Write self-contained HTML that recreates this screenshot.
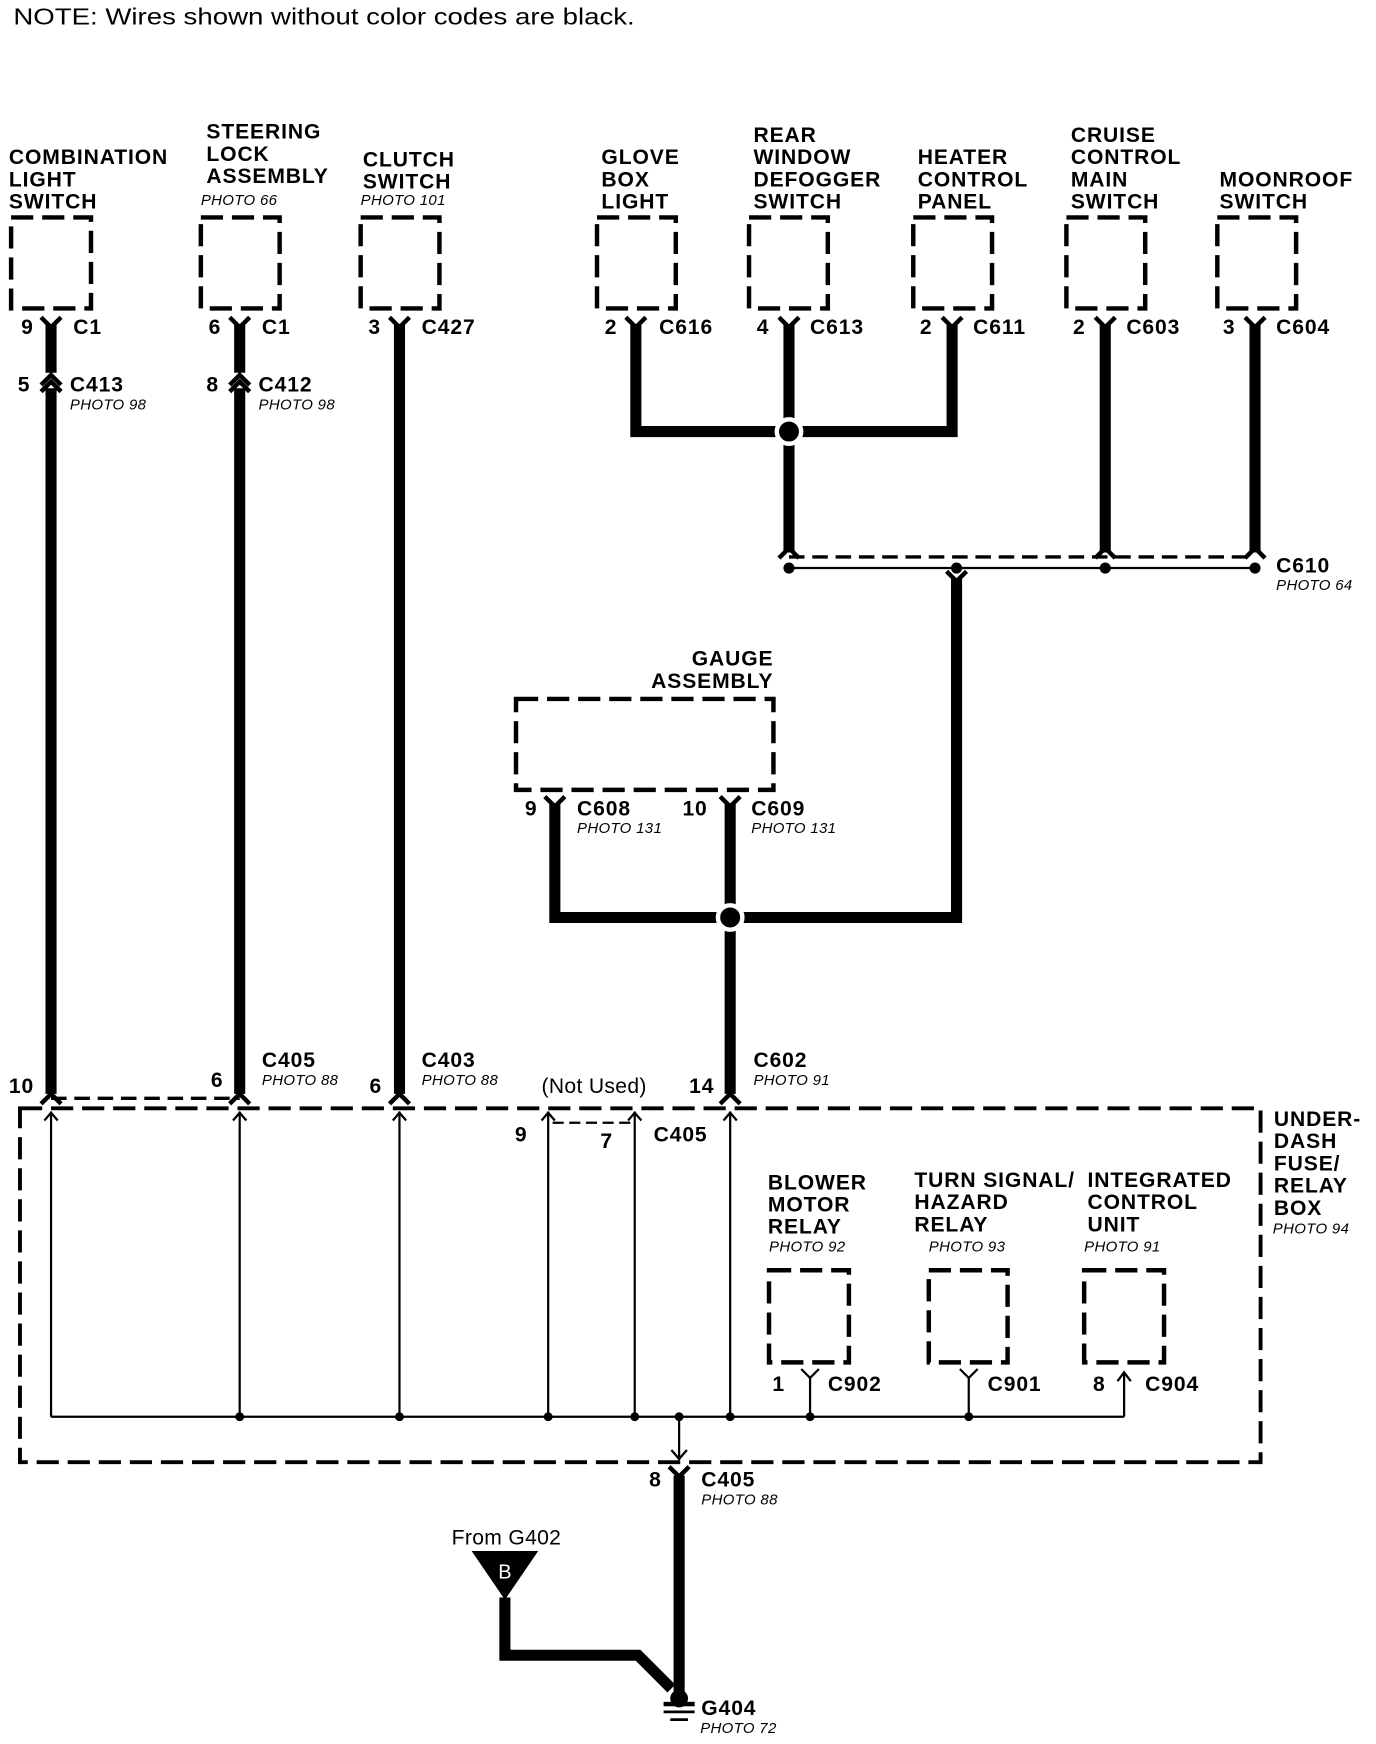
<!DOCTYPE html>
<html><head><meta charset="utf-8"><style>
html,body{margin:0;padding:0;background:#fff}
svg{display:block}
text{font-family:"Liberation Sans",Arial,sans-serif;fill:#000}
.b{font-weight:bold;font-size:19px;letter-spacing:0.8px}
.p{font-style:italic;font-size:13.5px;letter-spacing:0.3px}
.n{font-size:19px;letter-spacing:0.3px}
</style></head><body>
<svg width="1376" height="1744" viewBox="0 0 1240 1572" preserveAspectRatio="none" xmlns="http://www.w3.org/2000/svg">
<rect width="1240" height="1572" fill="#fff"/>
<text x="12" y="22" style="font-size:21px" textLength="560" lengthAdjust="spacingAndGlyphs">NOTE: Wires shown without color codes are black.</text>

<g fill="none" stroke="#000" stroke-width="4" stroke-dasharray="20,8">
<rect x="10" y="196" width="72" height="82"/>
<rect x="181" y="196" width="71" height="82"/>
<rect x="325" y="196" width="71" height="82"/>
<rect x="538" y="196" width="71" height="82"/>
<rect x="675" y="196" width="71" height="82"/>
<rect x="823" y="196" width="71" height="82"/>
<rect x="961" y="196" width="71" height="82"/>
<rect x="1097" y="196" width="71" height="82"/>
<rect x="465" y="630" width="232" height="82"/>
<rect x="693" y="1145" width="72" height="83"/>
<rect x="837" y="1145" width="71" height="83"/>
<rect x="977" y="1145" width="72" height="83"/>
<rect x="18" y="999" width="1118" height="319" stroke-width="3.5"/>
</g>

<g>
<text x="8" y="148" class="b">COMBINATION</text><text x="8" y="168" class="b">LIGHT</text><text x="8" y="188" class="b">SWITCH</text>
<text x="186" y="125" class="b">STEERING</text><text x="186" y="145" class="b">LOCK</text><text x="186" y="165" class="b">ASSEMBLY</text>
<text x="327" y="150" class="b">CLUTCH</text><text x="327" y="170" class="b">SWITCH</text>
<text x="542" y="148" class="b">GLOVE</text><text x="542" y="168" class="b">BOX</text><text x="542" y="188" class="b">LIGHT</text>
<text x="679" y="128" class="b">REAR</text><text x="679" y="148" class="b">WINDOW</text><text x="679" y="168" class="b">DEFOGGER</text><text x="679" y="188" class="b">SWITCH</text>
<text x="827" y="148" class="b">HEATER</text><text x="827" y="168" class="b">CONTROL</text><text x="827" y="188" class="b">PANEL</text>
<text x="965" y="128" class="b">CRUISE</text><text x="965" y="148" class="b">CONTROL</text><text x="965" y="168" class="b">MAIN</text><text x="965" y="188" class="b">SWITCH</text>
<text x="1099" y="168" class="b">MOONROOF</text><text x="1099" y="188" class="b">SWITCH</text>
<text x="697" y="600" class="b" text-anchor="end">GAUGE</text><text x="697" y="620" class="b" text-anchor="end">ASSEMBLY</text>
<text x="692" y="1072" class="b">BLOWER</text><text x="692" y="1092" class="b">MOTOR</text><text x="692" y="1112" class="b">RELAY</text>
<text x="824" y="1070" class="b">TURN SIGNAL/</text><text x="824" y="1090" class="b">HAZARD</text><text x="824" y="1110" class="b">RELAY</text>
<text x="980" y="1070" class="b">INTEGRATED</text><text x="980" y="1090" class="b">CONTROL</text><text x="980" y="1110" class="b">UNIT</text>
<text x="1148" y="1015" class="b">UNDER-</text><text x="1148" y="1035" class="b">DASH</text><text x="1148" y="1055" class="b">FUSE/</text><text x="1148" y="1075" class="b">RELAY</text><text x="1148" y="1095" class="b">BOX</text>
</g>
<g>
<text x="181" y="185" class="p">PHOTO 66</text>
<text x="325" y="185" class="p">PHOTO 101</text>
<text x="63" y="369" class="p">PHOTO 98</text>
<text x="233" y="369" class="p">PHOTO 98</text>
<text x="1150" y="532" class="p">PHOTO 64</text>
<text x="520" y="751" class="p">PHOTO 131</text>
<text x="677" y="751" class="p">PHOTO 131</text>
<text x="236" y="978" class="p">PHOTO 88</text>
<text x="380" y="978" class="p">PHOTO 88</text>
<text x="679" y="978" class="p">PHOTO 91</text>
<text x="693" y="1128" class="p">PHOTO 92</text>
<text x="837" y="1128" class="p">PHOTO 93</text>
<text x="977" y="1128" class="p">PHOTO 91</text>
<text x="1147" y="1112" class="p">PHOTO 94</text>
<text x="632" y="1356" class="p">PHOTO 88</text>
<text x="631" y="1562" class="p">PHOTO 72</text>
</g>
<g>
<text x="19" y="301" class="b">9</text><text x="66" y="301" class="b">C1</text>
<text x="188" y="301" class="b">6</text><text x="236" y="301" class="b">C1</text>
<text x="332" y="301" class="b">3</text><text x="380" y="301" class="b">C427</text>
<text x="545" y="301" class="b">2</text><text x="594" y="301" class="b">C616</text>
<text x="682" y="301" class="b">4</text><text x="730" y="301" class="b">C613</text>
<text x="829" y="301" class="b">2</text><text x="877" y="301" class="b">C611</text>
<text x="967" y="301" class="b">2</text><text x="1015" y="301" class="b">C603</text>
<text x="1102" y="301" class="b">3</text><text x="1150" y="301" class="b">C604</text>
<text x="16" y="353" class="b">5</text><text x="63" y="353" class="b">C413</text>
<text x="186" y="353" class="b">8</text><text x="233" y="353" class="b">C412</text>
<text x="1150" y="516" class="b">C610</text>
<text x="473" y="735" class="b">9</text><text x="520" y="735" class="b">C608</text>
<text x="615" y="735" class="b">10</text><text x="677" y="735" class="b">C609</text>
<text x="236" y="962" class="b">C405</text>
<text x="380" y="962" class="b">C403</text>
<text x="679" y="962" class="b">C602</text>
<text x="8" y="985" class="b">10</text>
<text x="190" y="980" class="b">6</text>
<text x="333" y="985" class="b">6</text>
<text x="621" y="985" class="b">14</text>
<text x="488" y="985" class="n">(Not Used)</text>
<text x="464" y="1029" class="b">9</text>
<text x="541" y="1035" class="b">7</text>
<text x="589" y="1029" class="b">C405</text>
<text x="696" y="1254" class="b">1</text><text x="746" y="1254" class="b">C902</text>
<text x="890" y="1254" class="b">C901</text>
<text x="985" y="1254" class="b">8</text><text x="1032" y="1254" class="b">C904</text>
<text x="585" y="1340" class="b">8</text><text x="632" y="1340" class="b">C405</text>
<text x="407" y="1392" class="n">From G402</text>
<text x="632" y="1546" class="b">G404</text>
</g>

<g stroke="#000" stroke-width="10" fill="none" stroke-linejoin="miter">
<line x1="46" y1="292" x2="46" y2="336"/>
<line x1="46" y1="350" x2="46" y2="986"/>
<line x1="216" y1="292" x2="216" y2="336"/>
<line x1="216" y1="350" x2="216" y2="986"/>
<line x1="360" y1="292" x2="360" y2="986"/>
<polyline points="573,292 573,389 858,389 858,292"/>
<line x1="711" y1="292" x2="711" y2="498"/>
<line x1="996" y1="292" x2="996" y2="498"/>
<line x1="1131" y1="292" x2="1131" y2="498"/>
<polyline points="862,522 862,827 500,827 500,724"/>
<line x1="658" y1="724" x2="658" y2="986"/>
<line x1="612" y1="1330" x2="612" y2="1528"/>
<polyline points="455,1440 455,1492 575,1492 605,1522"/>
</g>
<g stroke="#000" stroke-width="4" fill="none">
<path d="M37,286 L46,295 L55,286 M207,286 L216,295 L225,286 M351,286 L360,295 L369,286 M564,286 L573,295 L582,286 M702,286 L711,295 L720,286 M849,286 L858,295 L867,286 M987,286 L996,295 L1005,286 M1122,286 L1131,295 L1140,286"/>
<path d="M491,718 L500,727 L509,718 M649,718 L658,727 L667,718"/>
<path d="M853,515 L862,524 L871,515"/>
<path d="M603,1322 L612,1331 L621,1322"/>
<path d="M37,347 L46,338 L55,347 M37,353 L46,344 L55,353 M207,347 L216,338 L225,347 M207,353 L216,344 L225,353"/>
<path d="M702,503 L711,494 L720,503 M987,503 L996,494 L1005,503 M1122,503 L1131,494 L1140,503"/>
<path d="M37,995 L46,986 L55,995 M207,995 L216,986 L225,995 M351,995 L360,986 L369,995 M649,995 L658,986 L667,995"/>
</g>
<circle cx="711" cy="389" r="11" fill="#000" stroke="#fff" stroke-width="4"/>
<circle cx="658" cy="827" r="11" fill="#000" stroke="#fff" stroke-width="4"/>
<line x1="711" y1="502" x2="1131" y2="502" stroke="#000" stroke-width="3" stroke-dasharray="14,7"/>
<line x1="711" y1="512" x2="1131" y2="512" stroke="#000" stroke-width="2"/>
<g fill="#000"><circle cx="711" cy="512" r="5"/><circle cx="862" cy="512" r="5"/><circle cx="996" cy="512" r="5"/><circle cx="1131" cy="512" r="5"/></g>
<line x1="46" y1="990" x2="216" y2="990" stroke="#000" stroke-width="3" stroke-dasharray="14,7"/>

<g stroke="#000" stroke-width="2" fill="none">
<line x1="46" y1="1002" x2="46" y2="1277"/>
<line x1="216" y1="1002" x2="216" y2="1277"/>
<line x1="360" y1="1002" x2="360" y2="1277"/>
<line x1="494" y1="1002" x2="494" y2="1277"/>
<line x1="572" y1="1002" x2="572" y2="1277"/>
<line x1="658" y1="1002" x2="658" y2="1277"/>
<line x1="46" y1="1277" x2="1013" y2="1277"/>
<line x1="1013" y1="1238" x2="1013" y2="1277"/>
<line x1="730" y1="1242" x2="730" y2="1277"/>
<line x1="873" y1="1242" x2="873" y2="1277"/>
<line x1="612" y1="1277" x2="612" y2="1316"/>
<path d="M40,1010 L46,1003 L52,1010 M210,1010 L216,1003 L222,1010 M354,1010 L360,1003 L366,1010 M652,1010 L658,1003 L664,1010 M488,1010 L494,1003 L500,1010 M566,1010 L572,1003 L578,1010"/>
<path d="M1007,1245 L1013,1237 L1019,1245"/>
<path d="M722,1234 L730,1242 L738,1234 M865,1234 L873,1242 L881,1234"/>
<path d="M605,1307 L612,1315 L619,1307"/>
<path d="M498,1012 L568,1012" stroke-dasharray="10,5"/>
</g>
<g fill="#000">
<circle cx="216" cy="1277" r="4"/><circle cx="360" cy="1277" r="4"/><circle cx="494" cy="1277" r="4"/><circle cx="572" cy="1277" r="4"/><circle cx="612" cy="1277" r="4"/><circle cx="658" cy="1277" r="4"/><circle cx="730" cy="1277" r="4"/><circle cx="873" cy="1277" r="4"/>
</g>
<polygon points="425,1398 485,1398 455,1442" fill="#000"/>
<text x="455" y="1423" text-anchor="middle" style="font-size:18px;fill:#fff">B</text>
<circle cx="612" cy="1531" r="8" fill="#000"/>
<rect x="598" y="1534" width="28" height="4" fill="#000"/>
<line x1="598" y1="1543" x2="626" y2="1543" stroke="#000" stroke-width="2.5"/>
<line x1="604" y1="1550" x2="620" y2="1550" stroke="#000" stroke-width="2.5"/>
</svg>
</body></html>
